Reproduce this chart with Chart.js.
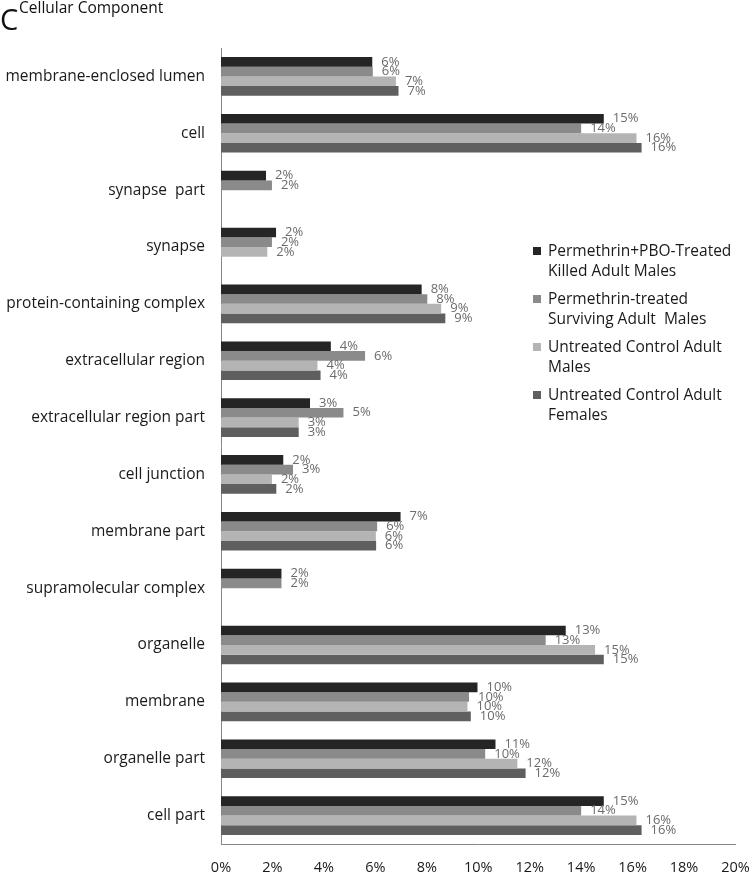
<!DOCTYPE html>
<html>
<head>
<meta charset="utf-8">
<script src="https://cdn.jsdelivr.net/npm/chart.js@4/dist/chart.umd.min.js"></script>
<style>
  html, body { margin: 0; padding: 0; background: #fff; }
  #wrap { position: relative; width: 750px; height: 874px; font-family: "Open Sans", sans-serif; }
  #chart { position: absolute; left: 0; top: 0; }
  .panel { position: absolute; left: 0; top: 3px; font-size: 29px; line-height: 32px; color: #111; }
  .title { position: absolute; left: 19px; top: -3px; font-size: 15.5px; line-height: 20px; color: #111; }
  #legend { position: absolute; left: 533px; top: 241px; font-size: 15.5px; line-height: 19.5px; color: #1a1a1a; }
  #legend .item { position: relative; padding-left: 15px; margin-bottom: 9px; }
  #legend .sw { position: absolute; left: 0; top: 6px; width: 8px; height: 8px; }
</style>
</head>
<body>
<div id="wrap">
  <canvas id="chart" width="750" height="874"></canvas>
  <div class="panel">C</div>
  <div class="title">Cellular Component</div>
  <div id="legend"></div>
</div>
<script>
// 카테고리 (위에서 아래 순서)
const categories = [
  'membrane-enclosed lumen', 'cell', 'synapse  part', 'synapse',
  'protein-containing complex', 'extracellular region', 'extracellular region part',
  'cell junction', 'membrane part', 'supramolecular complex', 'organelle',
  'membrane', 'organelle part', 'cell part'
];

// 시리즈 값 (%)
const killedMales    = [5.88, 14.88, 1.75, 2.14, 7.8, 4.27, 3.46, 2.42, 6.98, 2.35, 13.4, 9.97, 10.67, 14.88];
const survivingMales = [5.9, 14.0, 1.98, 1.98, 8.02, 5.6, 4.76, 2.8, 6.07, 2.35, 12.62, 9.64, 10.27, 14.0];
const controlMales   = [6.8, 16.15, null, 1.8, 8.56, 3.75, 3.02, 1.98, 6.02, null, 14.54, 9.58, 11.52, 16.15];
const controlFemales = [6.9, 16.35, null, null, 8.72, 3.87, 3.02, 2.15, 6.03, null, 14.88, 9.71, 11.84, 16.35];

const seriesNames = [
  ['Permethrin+PBO-Treated', 'Killed Adult Males'],
  ['Permethrin-treated', 'Surviving Adult  Males'],
  ['Untreated Control Adult', 'Males'],
  ['Untreated Control Adult', 'Females']
];
const seriesColors = ['#252525', '#8a8a8a', '#b4b4b4', '#5f5f5f'];

// x축 눈금
const xTicks = [0, 2, 4, 6, 8, 10, 12, 14, 16, 18, 20];

// 막대 끝 라벨
const barLabels = {
  id: 'barLabels',
  afterDatasetsDraw(chart) {
    const ctx = chart.ctx;
    ctx.save();
    ctx.font = '13px "Open Sans"';
    ctx.fillStyle = '#6b6b6b';
    ctx.textAlign = 'left';
    ctx.textBaseline = 'middle';
    chart.data.datasets.forEach((ds, i) => {
      chart.getDatasetMeta(i).data.forEach((bar, j) => {
        const v = ds.data[j];
        if (!v) return;
        ctx.fillText(Math.round(v) + '%', bar.x + 9, bar.y);
      });
    });
    ctx.restore();
  }
};

const allSeries = [killedMales, survivingMales, controlMales, controlFemales];

new Chart(document.getElementById('chart'), {
  type: 'bar',
  data: {
    labels: categories,
    datasets: allSeries.map((data, i) => ({
      label: seriesNames[i].join(' '),
      data: data,
      backgroundColor: seriesColors[i],
      borderWidth: 0,
      barPercentage: 1,
      categoryPercentage: 0.68
    }))
  },
  options: {
    indexAxis: 'y',
    responsive: false,
    animation: false,
    layout: { padding: { top: 48, right: 0, bottom: 0, left: 0 } },
    plugins: {
      legend: { display: false },
      tooltip: { enabled: false }
    },
    scales: {
      x: {
        min: 0,
        max: 20,
        afterBuildTicks: (scale) => { scale.ticks = xTicks.map(v => ({ value: v })); },
        afterFit: (scale) => {
          scale.height = 30;
          scale.paddingLeft = 0;
          scale.paddingRight = 14.5;
        },
        grid: { display: false, drawTicks: false },
        border: { display: true, color: '#868686', width: 1 },
        ticks: {
          padding: 15,
          color: '#1a1a1a',
          font: { family: 'Open Sans', size: 14.5 },
          callback: (v) => v + '%'
        }
      },
      y: {
        afterFit: (scale) => { scale.width = 221; },
        grid: { display: false, drawTicks: false },
        border: { display: true, color: '#868686', width: 1 },
        ticks: {
          padding: 16,
          color: '#1a1a1a',
          font: { family: 'Open Sans', size: 15.5 }
        }
      }
    }
  },
  plugins: [barLabels]
});

// 범례 (두 줄 텍스트)
const legendEl = document.getElementById('legend');
seriesNames.forEach((lines, i) => {
  const item = document.createElement('div');
  item.className = 'item';
  const sw = document.createElement('span');
  sw.className = 'sw';
  sw.style.background = seriesColors[i];
  item.appendChild(sw);
  lines.forEach(t => {
    const line = document.createElement('div');
    line.textContent = t;
    line.style.whiteSpace = 'pre';
    item.appendChild(line);
  });
  legendEl.appendChild(item);
});
</script>
</body>
</html>
